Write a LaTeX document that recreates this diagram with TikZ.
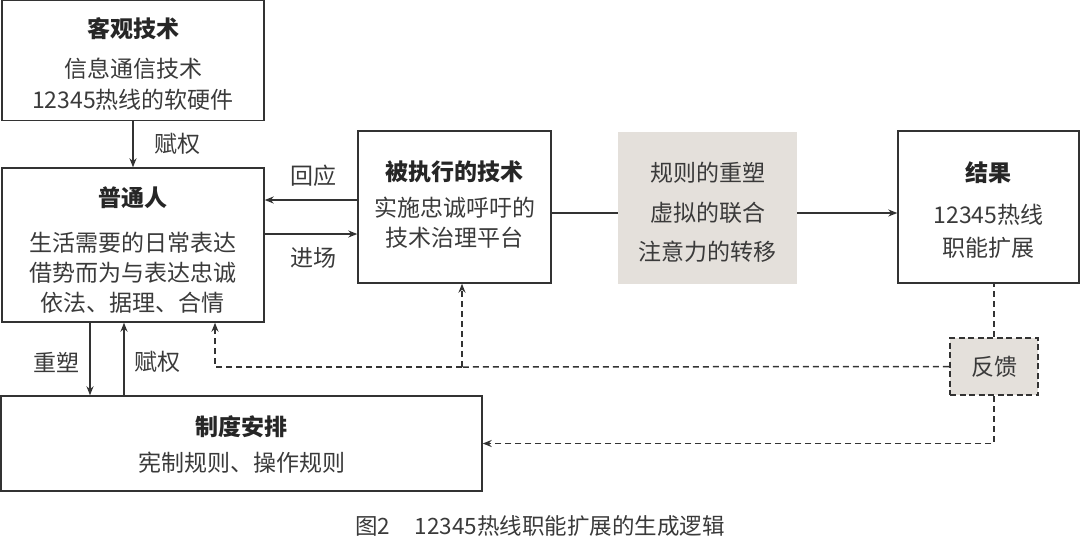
\documentclass[tikz,border=0pt]{standalone}
\usepackage{fontspec}
\setmainfont{Noto Sans CJK SC}
\usetikzlibrary{arrows.meta}
\definecolor{ln}{HTML}{333333}
\definecolor{tx}{HTML}{3A3A3A}
\definecolor{gfill}{HTML}{E4E0DB}
\tikzset{
  box/.style={draw=ln, line width=1.4pt, rectangle, inner sep=0pt},
  ttl/.style={font=\fontsize{23}{28}\selectfont\bfseries, text=black!85},
  txt/.style={font=\fontsize{23}{28}\selectfont, text=tx},
  lbl/.style={font=\fontsize{23}{28}\selectfont, text=tx},
  arr/.style={draw=ln, line width=1.4pt, -{Stealth[length=9pt,width=7pt]}},
  conn/.style={draw=ln, line width=1.4pt},
  dsh/.style={draw=ln, line width=1.5pt, dash pattern=on 6pt off 4pt},
  darr/.style={dsh, -{Stealth[length=9pt,width=7pt]}}
}
\begin{document}
\begin{tikzpicture}[x=1pt,y=-1pt]
\useasboundingbox (0,0) rectangle (1080,539);
% boxes
\node[box, minimum width=262pt, minimum height=120pt] (k) at (133,60.5) {};
\node[box, minimum width=262pt, minimum height=154pt] (p) at (133,245) {};
\node[box, minimum width=193pt, minimum height=152pt] (e) at (454.5,207) {};
\node[rectangle, fill=gfill, minimum width=179pt, minimum height=152pt] (g) at (707.5,208) {};
\node[box, minimum width=181pt, minimum height=152pt] (r) at (988.5,207) {};
\node[box, fill=gfill, dash pattern=on 6pt off 3.5pt, line width=2.4pt, minimum width=88pt, minimum height=57pt] (f) at (994,366.5) {};
\node[box, minimum width=481pt, minimum height=95pt] (s) at (241.5,443.5) {};
% texts
\node[ttl] (k1) at (133,29) {客观技术};
\node[txt] (k2) at (133,69) {信息通信技术};
\node[txt] (k3) at (133,100) {12345热线的软硬件};
\node[ttl] (p1) at (133,198) {普通人};
\node[txt] (p2) at (133,243) {生活需要的日常表达};
\node[txt] (p3) at (133,273) {借势而为与表达忠诚};
\node[txt] (p4) at (133,303) {依法、据理、合情};
\node[ttl] (e1) at (454.5,172) {被执行的技术};
\node[txt] (e2) at (454.5,208) {实施忠诚呼吁的};
\node[txt] (e3) at (454.5,238) {技术治理平台};
\node[txt] (g1) at (707.5,173) {规则的重塑};
\node[txt] (g2) at (707.5,213) {虚拟的联合};
\node[txt] (g3) at (707.5,252) {注意力的转移};
\node[ttl] (r1) at (988.5,173) {结果};
\node[txt] (r2) at (988.5,215) {12345热线};
\node[txt] (r3) at (988.5,248) {职能扩展};
\node[txt] (f1) at (994,367) {反馈};
\node[ttl] (s1) at (241.5,427) {制度安排};
\node[txt] (s2) at (241.5,463) {宪制规则、操作规则};
% labels
\node[lbl] (l1) at (177,144) {赋权};
\node[lbl] (l2) at (313,176) {回应};
\node[lbl] (l3) at (313,258) {进场};
\node[lbl] (l4) at (56,362) {重塑};
\node[lbl] (l5) at (157,362) {赋权};
\node[font=\fontsize{22.5}{26}\selectfont, text=tx] (cap) at (540,526) {图2\hspace{1.1em}12345热线职能扩展的生成逻辑};
% connectors
\draw[arr] (k.south) -- (p.north);
\coordinate (a1) at (358,200);
\coordinate (a2) at (264,234);
\draw[arr] (a1) -- (p.east |- a1);
\draw[arr] (a2) -- (e.west |- a2);
\coordinate (b1) at (551,213);
\draw[conn] (b1) -- (g.west |- b1);
\draw[arr] (g.east |- b1) -- (r.west |- b1);
\coordinate (c1) at (90,322);
\coordinate (c2) at (124,396);
\draw[arr] (c1) -- (s.north -| c1);
\draw[arr] (c2) -- (p.south -| c2);
% feedback
\draw[dsh] (f.north) -- (f.north |- r.south);
\draw[darr] (f.south) |- (s.east);
\coordinate (j1) at (462,367);
\coordinate (j2) at (215,367);
\draw[dsh] (f.west) -- (j1);
\draw[darr] (j1) -- (j2) -- (p.south -| j2);
\draw[darr] (j1) -- (e.south -| j1);
\end{tikzpicture}
\end{document}
